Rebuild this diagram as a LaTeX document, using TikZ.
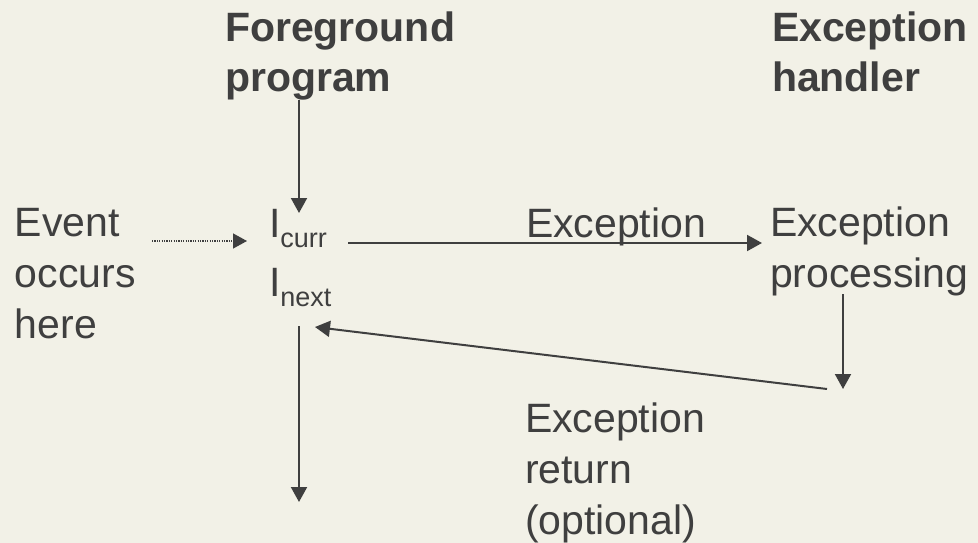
\documentclass[tikz,border=0pt]{standalone}
\usepackage{fontspec}
\setmainfont{Liberation Sans}
\usetikzlibrary{arrows.meta}
\definecolor{paper}{HTML}{F2F1E7}
\definecolor{ink}{HTML}{3F3F3F}
\newcommand{\subtext}[1]{\raisebox{-10pt}{\fontsize{27}{27}\selectfont #1}}
\begin{document}
\begin{tikzpicture}[x=1pt,y=-1pt,
  lbl/.style={anchor=base west,inner sep=0pt,outer sep=0pt,align=left,text=ink,
    font=\fontsize{41}{51}\selectfont},
  head/.style={lbl,font=\fontsize{41}{51}\selectfont\bfseries},
  flow/.style={draw=ink,line width=2pt,-{Triangle[length=15pt,width=16pt]}},
  event/.style={draw=ink,line width=1.3pt,dash pattern=on 1.2pt off 1.2pt,
    -{Triangle[length=14pt,width=15pt]}}]
  % page
  \fill[paper] (0,0) rectangle (978,543);
  \useasboundingbox (0,0) rectangle (978,543);

  % column headings (a multi-line node sits on the baseline of its last line)
  \node[head] (fg) at (225,92) {Foreground\\program};
  \node[head] (eh) at (772,92) {Exception\\handler};

  % texts
  \node[lbl] (ev) at (15,338) {Event\\occurs\\here};
  \node[lbl] (icurr) at (269,237) {I\subtext{curr}};
  \node[lbl] (inext) at (269,296) {I\subtext{next}};
  \node[lbl] (exc) at (526,237) {Exception};
  \node[lbl] (proc) at (770,287) {Exception\\processing};
  \node[lbl] (ret) at (525,534) {Exception\\return\\(optional)};

  % connector ends
  \coordinate (fgout) at (299,100);
  \coordinate (curin) at (299,213);
  \coordinate (evout) at (152,241);
  \coordinate (evin)  at (247,241);
  \coordinate (excout) at (348,243);
  \coordinate (procin) at (762,243);
  \coordinate (procout) at (843,294);
  \coordinate (procend) at (843,389);
  \coordinate (retout) at (827,389);
  \coordinate (nextin) at (315,327);
  \coordinate (nextout) at (299,326);
  \coordinate (cont) at (299,502);

  % connectors
  \draw[flow] (fgout) -- (curin);
  \draw[event] (evout) -- (evin);
  \draw[flow] (excout) -- (procin);
  \draw[flow] (procout) -- (procend);
  \draw[flow] (retout) -- (nextin);
  \draw[flow] (nextout) -- (cont);
\end{tikzpicture}
\end{document}
